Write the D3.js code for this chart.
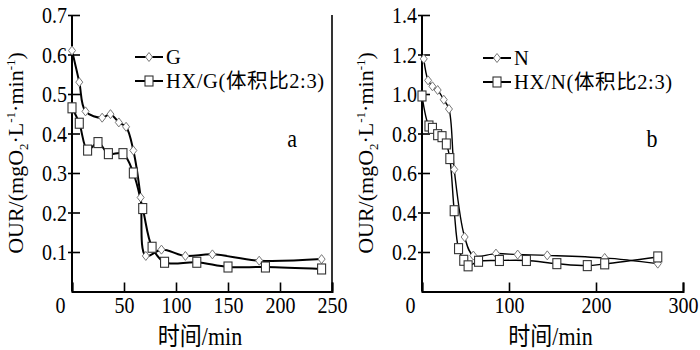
<!DOCTYPE html>
<html>
<head>
<meta charset="utf-8">
<script src="https://cdn.jsdelivr.net/npm/d3@7"></script>
<style>
  body { margin: 0; background: #fff; }
  svg { display: block; }
</style>
</head>
<body>
<svg id="chart" width="700" height="350"></svg>
<script>
// ---- data: oxygen uptake rate over time ----
// panel a
const timeG = [0, 7, 13, 29, 37, 45, 52, 59, 66, 71, 86, 109, 135, 180, 240];
const ourG = [0.61, 0.53, 0.456, 0.44, 0.449, 0.428, 0.417, 0.357, 0.238, 0.09, 0.106, 0.09, 0.094, 0.078, 0.082];
const timeHXG = [0, 7, 15, 25, 35, 49, 59, 68, 77, 89, 120, 150, 186, 240];
const ourHXG = [0.465, 0.426, 0.358, 0.377, 0.349, 0.349, 0.30, 0.21, 0.112, 0.074, 0.074, 0.062, 0.062, 0.057];
// panel b
const timeN = [2, 7, 12, 18, 25, 31, 37, 49, 59, 85, 110, 144, 210, 271];
const ourN = [1.178, 1.069, 1.039, 1.02, 0.971, 0.924, 0.618, 0.276, 0.182, 0.192, 0.187, 0.183, 0.17, 0.141];
const timeHXN = [0, 8, 12, 18, 23, 28, 32, 37, 42, 48, 53, 65, 89, 120, 155, 190, 210, 271];
const ourHXN = [0.99, 0.838, 0.826, 0.794, 0.784, 0.747, 0.673, 0.409, 0.217, 0.158, 0.13, 0.153, 0.157, 0.157, 0.141, 0.131, 0.14, 0.175];

// axis ticks
const xTicksA = [0, 50, 100, 150, 200, 250];
const yTicksA = [0.1, 0.2, 0.3, 0.4, 0.5, 0.6, 0.7];
const xTicksB = [0, 100, 200, 300];
const yTicksB = [0.2, 0.4, 0.6, 0.8, 1.0, 1.2, 1.4];

const legendA = ["G", "HX/G(体积比2:3)"];
const legendB = ["N", "HX/N(体积比2:3)"];
const xTitle = "时间/min";

const FONT = "'Liberation Serif', 'Times New Roman', 'Noto Sans CJK SC', serif";
const SY = 1.15; // vertical stretch applied to the lettering

const svg = d3.select("#chart");

const panels = [
  {
    x0: 72, x1: 332, yTop: 15, yBot: 291.5,
    xDomain: [0, 250], yDomain: [0, 0.7],
    xTicks: xTicksA, yTicks: yTicksA,
    series: [
      { name: legendA[0], t: timeG, v: ourG, sym: "diamond" },
      { name: legendA[1], t: timeHXG, v: ourHXG, sym: "square" }
    ],
    lineWidth: 2, rightBorder: true,
    legendX: 135, legendY: 57, tag: "a", tagX: 292, tagY: 147, titleX: 15
  },
  {
    x0: 422, x1: 683, yTop: 15, yBot: 291.5,
    xDomain: [0, 300], yDomain: [0, 1.4],
    xTicks: xTicksB, yTicks: yTicksB,
    series: [
      { name: legendB[0], t: timeN, v: ourN, sym: "diamond" },
      { name: legendB[1], t: timeHXN, v: ourHXN, sym: "square" }
    ],
    lineWidth: 1.4, rightBorder: false,
    legendX: 483, legendY: 58, tag: "b", tagX: 652, tagY: 147, titleX: 365
  }
];

function drawMarker(g, sym, x, y) {
  if (sym === "diamond") {
    g.append("path")
      .attr("d", `M${x},${y - 4.5}L${x + 3.5},${y}L${x},${y + 4.5}L${x - 3.5},${y}Z`)
      .attr("fill", "#fff").attr("stroke", "#777").attr("stroke-width", 1);
  } else {
    g.append("rect")
      .attr("x", x - 4).attr("y", y - 5).attr("width", 8).attr("height", 10)
      .attr("fill", "#fff").attr("stroke", "#333").attr("stroke-width", 1.1);
  }
}

function label(g, x, y, txt, size, anchor) {
  return g.append("text")
    .attr("transform", `translate(${x},${y}) scale(1,${SY})`)
    .attr("text-anchor", anchor || "start")
    .attr("font-family", FONT).attr("font-size", size).attr("fill", "#000")
    .text(txt);
}

panels.forEach(p => {
  const x = d3.scaleLinear().domain(p.xDomain).range([p.x0, p.x1]);
  const y = d3.scaleLinear().domain(p.yDomain).range([p.yBot, p.yTop]);
  const g = svg.append("g");

  // y axis: ticks cross the axis line
  const yAxis = g.append("g")
    .attr("transform", `translate(${p.x0},0)`)
    .call(d3.axisLeft(y).tickValues(p.yTicks).tickSizeOuter(0).tickSize(4).tickFormat(d3.format(".1f")));
  yAxis.select(".domain").attr("stroke-width", 2).attr("d", `M0,${p.yTop}V${p.yBot}`);
  yAxis.selectAll(".tick line").attr("x1", 8).attr("x2", -4).attr("stroke-width", 1.6);
  yAxis.selectAll(".tick text")
    .attr("x", 0).attr("y", 0).attr("dy", "0.34em")
    .attr("transform", `translate(-5,0) scale(1,${SY})`)
    .attr("font-family", FONT).attr("font-size", 20).attr("fill", "#000");

  // x axis: ticks point inward
  const xAxis = g.append("g")
    .attr("transform", `translate(0,${p.yBot})`)
    .call(d3.axisBottom(x).tickValues(p.xTicks).tickSizeOuter(0).tickSize(-9).tickFormat(d3.format("d")));
  xAxis.select(".domain").attr("stroke-width", 2);
  xAxis.selectAll(".tick line").attr("stroke-width", 1.6);
  xAxis.selectAll(".tick text")
    .attr("x", 0).attr("y", 0).attr("dy", 0)
    .attr("transform", d => `translate(${d === 0 ? -12 : 0},21) scale(1,${SY})`)
    .attr("font-family", FONT).attr("font-size", 20).attr("fill", "#000");

  if (p.rightBorder) {
    g.append("line")
      .attr("x1", p.x1).attr("x2", p.x1).attr("y1", p.yTop).attr("y2", p.yBot)
      .attr("stroke", "#000").attr("stroke-width", 1.6);
  }

  // smoothed series lines
  const line = d3.line()
    .x(d => x(d[0])).y(d => y(d[1]))
    .curve(d3.curveCatmullRom.alpha(0.5));

  p.series.forEach(s => {
    const pts = s.t.map((t, i) => [t, s.v[i]]);
    g.append("path").datum(pts)
      .attr("d", line)
      .attr("fill", "none").attr("stroke", "#000").attr("stroke-width", p.lineWidth);
  });
  p.series.forEach(s => {
    s.t.forEach((t, i) => drawMarker(g, s.sym, x(t), y(s.v[i])));
  });

  // legend
  p.series.forEach((s, i) => {
    const ly = p.legendY + i * 24;
    g.append("line")
      .attr("x1", p.legendX).attr("x2", p.legendX + 28)
      .attr("y1", ly).attr("y2", ly)
      .attr("stroke", "#000").attr("stroke-width", 2);
    drawMarker(g, s.sym, p.legendX + 14, ly);
    g.append("text")
      .attr("x", p.legendX + 31).attr("y", ly + 7)
      .attr("font-family", FONT).attr("font-size", 20.5)
      .attr("letter-spacing", 0.6)
      .text(s.name);
  });

  // panel tag
  label(g, p.tagX, p.tagY, p.tag, 22, "middle");

  // x-axis title
  label(g, (p.x0 + p.x1) / 2 - 2, 345, xTitle, 22, "middle");

  // y-axis title with sub/superscripts
  const yt = g.append("text")
    .attr("transform", `translate(${p.titleX + 8},153) rotate(-90)`)
    .attr("text-anchor", "middle")
    .attr("font-family", FONT).attr("font-size", 22);
  yt.append("tspan").text("OUR/(mgO");
  yt.append("tspan").attr("font-size", 13).attr("dy", 5).text("2");
  yt.append("tspan").attr("dy", -5).text("·L");
  yt.append("tspan").attr("font-size", 13).attr("dy", -8).text("-1");
  yt.append("tspan").attr("dy", 8).text("·min");
  yt.append("tspan").attr("font-size", 13).attr("dy", -8).text("-1");
  yt.append("tspan").attr("dy", 8).text(")");
});
</script>
</body>
</html>
